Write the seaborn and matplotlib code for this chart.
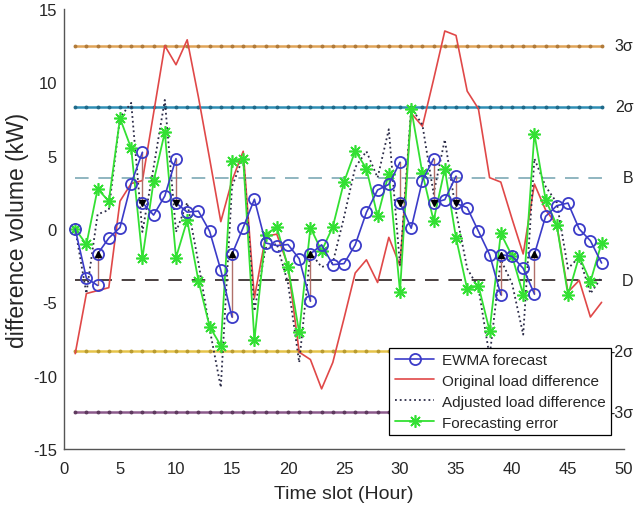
import pandas as pd
import seaborn as sns
import matplotlib.pyplot as plt
from matplotlib.lines import Line2D

# ---- data ----
hours = list(range(1, 49))

ewma_forecast = [0.0, -3.35, -3.85, -0.62, 0.1, 3.1, 5.23, 0.95, 2.25, 4.8,
                 1.15, 1.22, -0.15, -2.8, -6.0, 0.1, 2.03, -0.95, -1.13, -1.06,
                 -2.03, -4.91, -1.08, -2.43, -2.36, -1.08, 1.13, 2.66, 3.04, 4.55,
                 0.05, 3.3, 4.8, 2.0, 3.6, 1.45, -0.15, -1.75, -4.48, -1.86,
                 -2.68, -4.43, 0.86, 1.59, 1.77, 0.0, -0.8, -2.32]

# hours where the forecast was reset, and the value it was reset to
adjust_hours = [3, 7, 10, 15, 22, 30, 33, 35, 39, 42]
adjust_values = [-1.7, 1.8, 1.78, -1.72, -1.7, 1.8, 1.78, 1.75, -1.75, -1.72]

original_diff = [-8.5, -4.4, -4.2, -4.0, 1.9, 3.1, 3.3, 7.9, 12.5, 11.2,
                 12.9, 9.0, 4.8, 0.5, 3.3, 5.3, -4.7, -0.5, -0.35, -2.5,
                 -8.4, -8.9, -10.9, -9.1, -6.1, -3.0, -2.1, -3.65, -0.57, -2.5,
                 7.9, 7.0, 10.2, 13.5, 13.2, 9.4, 8.2, 3.5, 3.2, 0.7,
                 -1.7, 3.07, 1.3, 0.3, -4.3, -3.5, -6.0, -5.0]

adjusted_diff = [0.0, -4.4, 1.0, 1.3, 7.6, 8.6, -0.2, 4.2, 8.8, -0.2,
                 1.8, -2.3, -6.8, -10.8, 2.9, 4.9, -5.6, -1.3, -1.0, -3.7,
                 -9.1, -1.6, -2.6, -2.3, 0.8, 4.2, 5.3, 3.5, 6.8, -2.5,
                 8.3, 7.1, 2.4, 6.1, 1.2, -2.7, -4.0, -8.7, -2.1, -3.7,
                 -7.2, 4.8, 2.9, 1.8, -2.7, -1.9, -4.4, -3.3]

forecast_error = [0.0, -1.05, 2.73, 1.9, 7.55, 5.5, -2.0, 3.25, 6.6, -1.95,
                  0.6, -3.52, -6.65, -7.95, 4.66, 4.77, -7.58, -0.38, 0.14, -2.6,
                  -7.05, 0.1, -1.5, 0.15, 3.2, 5.32, 4.12, 0.86, 3.78, -4.27,
                  8.2, 3.8, 0.57, 4.1, -0.6, -4.1, -3.86, -6.93, -0.3, -1.83,
                  -4.47, 6.5, 2.0, 0.25, -4.5, -1.86, -3.6, -0.95]

limit_values = [12.5, 8.35, 3.5, -3.5, -8.35, -12.5]
limit_labels = ['3σ', '2σ', 'B', 'D', '-2σ', '-3σ']

# ---- styling ----
sns.set_style("white")
plt.rcParams['font.family'] = ['Liberation Sans', 'DejaVu Sans']
plt.rcParams['axes.unicode_minus'] = False
plt.rcParams['xtick.direction'] = 'in'
plt.rcParams['ytick.direction'] = 'in'

blue = '#3b3bc8'
red = '#e04848'
green = '#33e033'
dots = '#2c2c48'
limit_colors = ['#e0a458', '#2f8fb5', '#8fb5c0', '#4a4040', '#e6c44a', '#8c5a8c']
limit_dots = ['#b07a3a', '#1f6a8a', None, None, '#b89a30', '#5e3a5e']

fig = plt.figure(figsize=(6.36, 5.10), dpi=100)
ax = fig.add_axes([64 / 636, 1 - 450 / 510, 560 / 636, 440 / 510])

# threshold lines
for v, c, dc in zip(limit_values, limit_colors, limit_dots):
    if dc is None:
        sns.lineplot(x=hours, y=[v] * len(hours), color=c, lw=1.4,
                     linestyle=(0, (7, 5)), ax=ax, zorder=1)
    else:
        sns.lineplot(x=hours, y=[v] * len(hours), color=c, lw=1.8,
                     marker='o', markersize=2.8, markerfacecolor=dc,
                     markeredgecolor=dc, markeredgewidth=0, ax=ax, zorder=1)

# original and adjusted load difference
sns.lineplot(x=hours, y=original_diff, color=red, lw=1.2, ax=ax, zorder=2)
sns.lineplot(x=hours, y=adjusted_diff, color=dots, lw=1.3, linestyle=':',
             ax=ax, zorder=3)

# forecasting error
sns.lineplot(x=hours, y=forecast_error, color=green, lw=1.3, marker=(8, 2, 0),
             markersize=9, markeredgecolor=green, markeredgewidth=1.2,
             ax=ax, zorder=4)

# EWMA forecast, broken where it gets reset
adj = dict(zip(adjust_hours, adjust_values))
rows = []
seg = 0
for h, v in zip(hours, ewma_forecast):
    rows.append((seg, h, v))
    if h in adj:
        seg += 1
        rows.append((seg, h, adj[h]))
ewma_df = pd.DataFrame(rows, columns=['seg', 'hour', 'value'])
sns.lineplot(data=ewma_df, x='hour', y='value', units='seg', estimator=None,
             sort=False, color=blue, lw=1.2, marker='o', markersize=8,
             markerfacecolor='none', markeredgecolor=blue,
             markeredgewidth=1.3, ax=ax, zorder=5)

# reset arrows
for h, v in zip(adjust_hours, adjust_values):
    raw = ewma_forecast[hours.index(h)]
    ax.plot([h, h], [raw, v], color='#b0706a', lw=1.0, zorder=4.5)
    ax.plot(h, v, marker='^' if v > raw else 'v', color='black',
            markersize=4.5, zorder=6)

# labels of the threshold lines
for v, lab in zip(limit_values, limit_labels):
    ax.text(50.85, v, lab, ha='right', va='center', fontsize=11.5,
            clip_on=False)

ax.set_xlim(0, 50)
ax.set_ylim(-15, 15)
ax.set_xticks(range(0, 51, 5))
ax.set_yticks(range(-15, 16, 5))
ax.tick_params(labelsize=12, length=4, width=0.8, color='#555555')
ax.tick_params(axis='x', pad=9)
ax.tick_params(axis='y', pad=5)
for s in ['top', 'right']:
    ax.spines[s].set_visible(False)
for s in ['left', 'bottom']:
    ax.spines[s].set_color('#555555')
    ax.spines[s].set_linewidth(1.0)
ax.set_xlabel('Time slot (Hour)', fontsize=14, labelpad=6)
ax.set_ylabel('difference volume (kW)', fontsize=16.5, labelpad=3)

handles = [
    Line2D([], [], color=blue, lw=1.2, marker='o', markersize=8,
           markerfacecolor='none', markeredgewidth=1.3),
    Line2D([], [], color=red, lw=1.2),
    Line2D([], [], color=dots, lw=1.3, linestyle=':'),
    Line2D([], [], color=green, lw=1.3, marker=(8, 2, 0), markersize=9,
           markeredgewidth=1.2),
]
labels = ['EWMA forecast', 'Original load difference',
          'Adjusted load difference', 'Forecasting error']
leg = ax.legend(handles, labels, loc='lower right',
                bbox_to_anchor=(0.977, 0.032), borderaxespad=0,
                fontsize=11, frameon=True, fancybox=False,
                edgecolor='black', framealpha=1, handlelength=2.6,
                borderpad=0.35, labelspacing=0.45, handletextpad=0.5)
leg.get_frame().set_linewidth(0.9)
leg.set_zorder(10)

fig.savefig('out.png', dpi=100)
